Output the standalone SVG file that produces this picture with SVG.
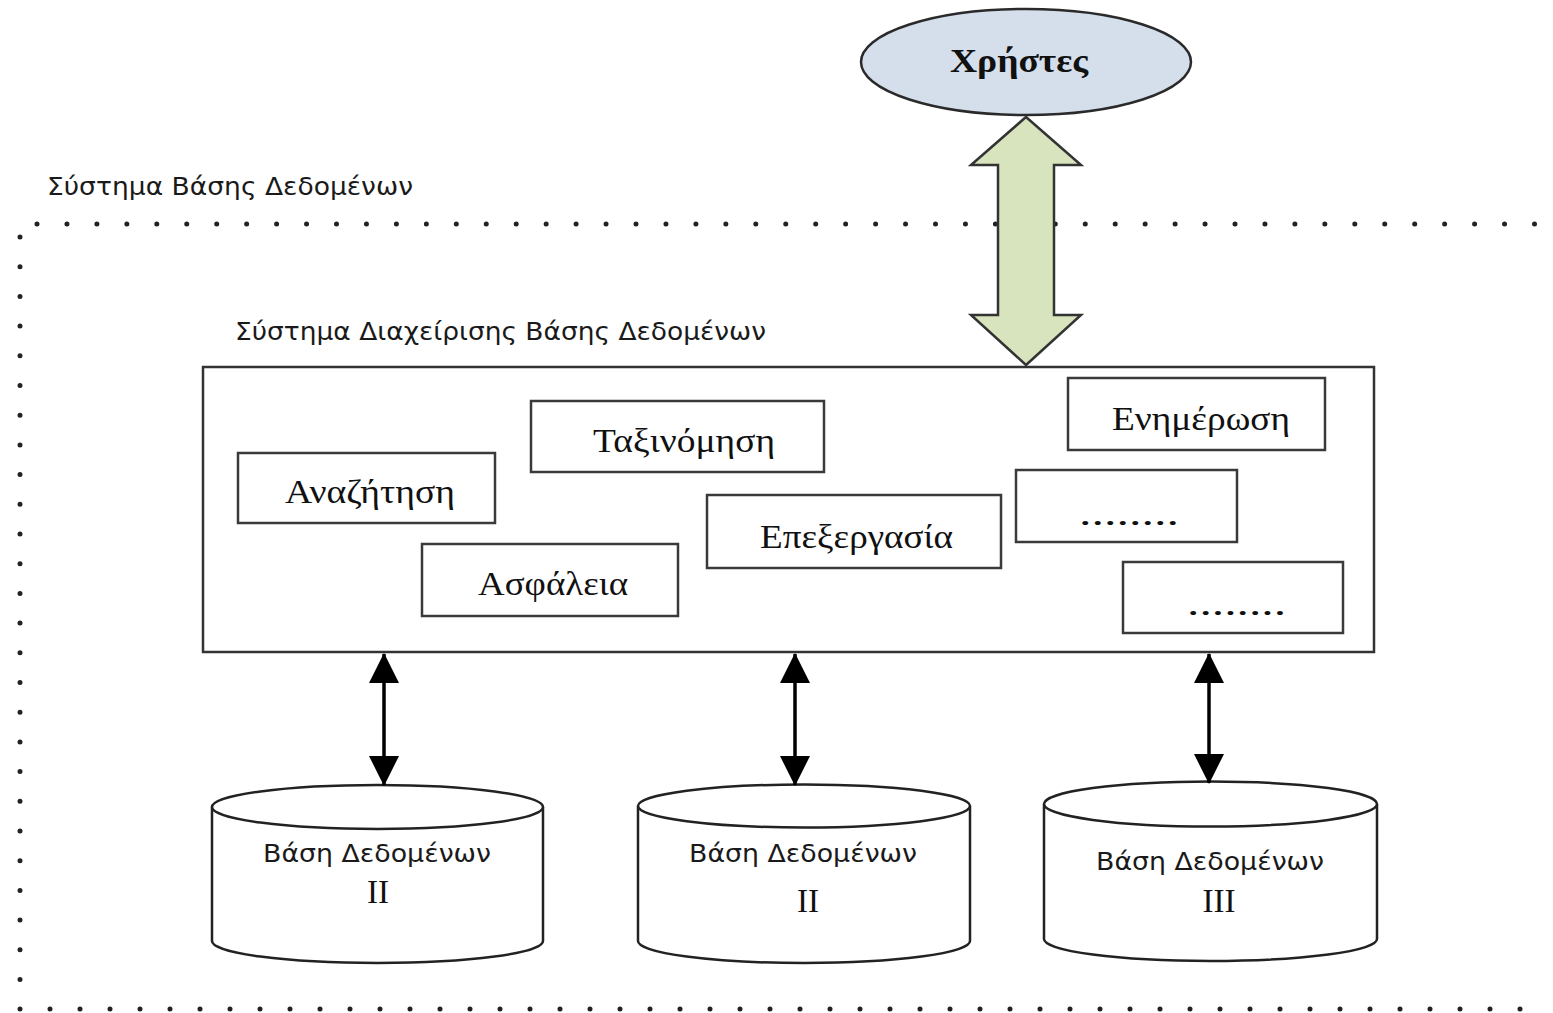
<svg xmlns="http://www.w3.org/2000/svg" width="1553" height="1013" viewBox="0 0 1553 1013">
<defs>
<style>
.dots{fill:none;stroke:#222;stroke-width:5;stroke-linecap:round}
.box{fill:#fff;stroke:#3a3a3a;stroke-width:2.5}
.sans{font-family:"DejaVu Sans","Noto Sans",sans-serif;font-size:24px;fill:#1a1a1a}
.serif{font-family:"Liberation Serif","DejaVu Serif",serif;font-size:33px;fill:#111}
.cyl{fill:#fff;stroke:#222;stroke-width:2.5}
.conn{stroke:#000;stroke-width:3.5;fill:none}
</style>
<marker id="ah" viewBox="0 0 30 30" markerUnits="userSpaceOnUse" markerWidth="30" markerHeight="30" refX="29" refY="15" orient="auto-start-reverse">
<path d="M0,0 L30,15 L0,30 z" fill="#000"/>
</marker>
</defs>
<rect width="1553" height="1013" fill="#fff"/>

<g id="dbsystem-border">
<line class="dots" x1="37" y1="224" x2="1535" y2="224" stroke-dasharray="0 29.95"/>
<line class="dots" x1="20" y1="237" x2="20" y2="1009" stroke-dasharray="0 29.7"/>
<line class="dots" x1="20" y1="1009" x2="1548" y2="1009" stroke-dasharray="0 30"/>
<line x1="1555" y1="212" x2="1555" y2="1010" stroke="#444" stroke-width="4" stroke-linecap="round" stroke-dasharray="0 18.7"/>
<text class="sans" x="47" y="195" textLength="366" lengthAdjust="spacingAndGlyphs">Σύστημα Βάσης Δεδομένων</text>
</g>

<g id="dbms">
<rect x="203" y="367" width="1171" height="285" fill="#fff" stroke="#333" stroke-width="2.5"/>
<text class="sans" x="235" y="340" textLength="531" lengthAdjust="spacingAndGlyphs">Σύστημα Διαχείρισης Βάσης Δεδομένων</text>
</g>

<g id="users">
<ellipse cx="1026" cy="62" rx="165" ry="53" fill="#d5dfec" stroke="#2a2a2a" stroke-width="2.5"/>
<text x="1019" y="72" text-anchor="middle" font-family="Liberation Serif,serif" font-weight="bold" font-size="34" fill="#111" textLength="138" lengthAdjust="spacingAndGlyphs">Χρήστες</text>
</g>

<g id="search">
<rect class="box" x="238" y="453" width="257" height="70"/>
<text class="serif" x="285" y="503" textLength="170" lengthAdjust="spacingAndGlyphs">Αναζήτηση</text>
</g>
<g id="sort">
<rect class="box" x="531" y="401" width="293" height="71"/>
<text class="serif" x="593" y="452" textLength="182" lengthAdjust="spacingAndGlyphs">Ταξινόμηση</text>
</g>
<g id="update">
<rect class="box" x="1068" y="378" width="257" height="72"/>
<text class="serif" x="1112" y="430" textLength="178" lengthAdjust="spacingAndGlyphs">Ενημέρωση</text>
</g>
<g id="security">
<rect class="box" x="422" y="544" width="256" height="72"/>
<text class="serif" x="478" y="595" textLength="150" lengthAdjust="spacingAndGlyphs">Ασφάλεια</text>
</g>
<g id="processing">
<rect class="box" x="707" y="495" width="294" height="73"/>
<text class="serif" x="760" y="548" textLength="193" lengthAdjust="spacingAndGlyphs">Επεξεργασία</text>
</g>
<g id="more1">
<rect class="box" x="1016" y="470" width="221" height="72"/>
<text class="serif" x="1079" y="525" textLength="100" lengthAdjust="spacingAndGlyphs">........</text>
</g>
<g id="more2">
<rect class="box" x="1123" y="562" width="220" height="71"/>
<text class="serif" x="1187" y="615" textLength="99" lengthAdjust="spacingAndGlyphs">........</text>
</g>

<g id="db1">
<path class="cyl" d="M212,807 L212,941 A165.5,22 0 0 0 543,941 L543,807"/>
<ellipse class="cyl" cx="377.5" cy="807" rx="165.5" ry="22"/>
<text class="sans" x="377" y="862" text-anchor="middle" textLength="228" lengthAdjust="spacingAndGlyphs">Βάση Δεδομένων</text>
<text class="serif" x="378" y="903" text-anchor="middle">II</text>
</g>
<g id="db2">
<path class="cyl" d="M638,806 L638,941 A166,22 0 0 0 970,941 L970,806"/>
<ellipse class="cyl" cx="804" cy="806" rx="166" ry="21.5"/>
<text class="sans" x="803" y="862" text-anchor="middle" textLength="228" lengthAdjust="spacingAndGlyphs">Βάση Δεδομένων</text>
<text class="serif" x="808" y="912" text-anchor="middle">II</text>
</g>
<g id="db3">
<path class="cyl" d="M1044,804 L1044,939 A166.5,22 0 0 0 1377,939 L1377,804"/>
<ellipse class="cyl" cx="1210.5" cy="804" rx="166.5" ry="22.5"/>
<text class="sans" x="1210" y="870" text-anchor="middle" textLength="228" lengthAdjust="spacingAndGlyphs">Βάση Δεδομένων</text>
<text class="serif" x="1219" y="912" text-anchor="middle">III</text>
</g>

<g id="connectors">
<polygon points="1026,117 1081,165 1054,165 1054,315 1081,315 1026,365 971,315 998,315 998,165 971,165" fill="#d7e4bd" stroke="#333" stroke-width="2.5" stroke-linejoin="miter"/>
<line class="conn" x1="384" y1="654" x2="384" y2="785" marker-start="url(#ah)" marker-end="url(#ah)"/>
<line class="conn" x1="795" y1="654" x2="795" y2="785" marker-start="url(#ah)" marker-end="url(#ah)"/>
<line class="conn" x1="1209" y1="654" x2="1209" y2="783" marker-start="url(#ah)" marker-end="url(#ah)"/>
</g>
</svg>
